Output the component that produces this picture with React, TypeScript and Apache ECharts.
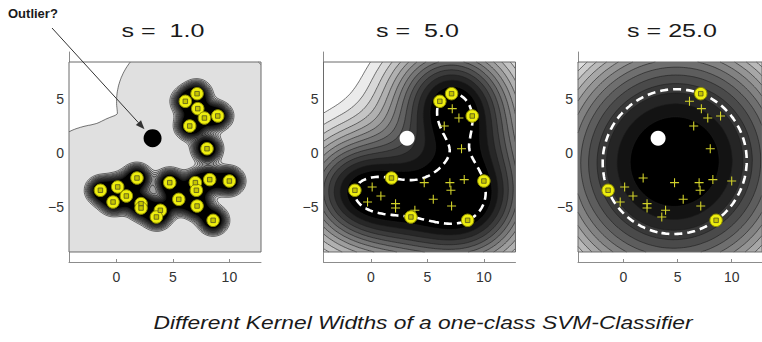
import React, { useEffect, useRef } from "react";
import * as echarts from "echarts";

// ---------------- data ----------------
const pointsX = [7.14, 6.1, 7.2, 7.79, 8.97, 6.49, 8.02, 1.82, -1.42, 0.11, 0.88, -0.3, 2.18, 2.18, 3.89, 3.54, 4.72, 5.52, 6.99, 8.26, 7.08, 10.0, 7.14, 8.56];
const pointsY = [5.53, 4.82, 4.14, 3.27, 3.46, 2.53, 0.42, -2.3, -3.44, -3.13, -3.97, -4.53, -4.68, -5.09, -5.3, -5.92, -2.73, -4.28, -2.73, -2.45, -3.44, -2.58, -4.9, -6.23];
const kernelWidths = [1.0, 5.0, 25.0];
const supportVectors = [
  [0, 1, 2, 3, 4, 5, 6, 7, 8, 9, 10, 11, 12, 13, 14, 15, 16, 17, 18, 19, 20, 21, 22, 23],
  [0, 1, 4, 7, 8, 15, 21, 23],
  [0, 8, 23],
];
const outlier = [3.2, 1.4];
const xTickValues = [0, 5, 10];
const yTickValues = [-5, 0, 5];
const annotationText = "Outlier?";
const captionText = "Different Kernel Widths of a one-class SVM-Classifier";

// ---------------- layout / style ----------------
const AX = { xMin: -4.2, xMax: 12.8, yMin: -10.1, yMax: 9.4 };
const BOX = { x0: -4.2, x1: 12.8, y0: -9.17, y1: 8.47 };
const GRID_LEFT = [69, 323.5, 578];
const GRID_TOP = 52;
const GRID_W = 192;
const GRID_H = 210;
const NX = 96;
const NY = 96;
const GAMMA = 1.15; // kernel k(x, y) = exp(-|x - y|^2 / (GAMMA * s^2))
const FONT = '"Liberation Sans", Arial, Helvetica, sans-serif';

const LEVEL_STYLE: any[] = [
  { div: 23.1, o: 9.86, kStart: 0, kEnd: 10, step: 20.4, extraLow: 7e-15, lowest: "#ffffff", boundary: false },
  { div: 14.5, o: 0.9, kStart: 0, kEnd: 12, step: 19.6, lowest: "#ffffff", boundary: true },
  { div: 9.7, o: 0.61, kStart: -3, kEnd: 9, step: 18.5, boundary: true },
];

function gray(v: number) {
  const c = Math.round(Math.max(0, Math.min(255, v)));
  return `rgb(${c},${c},${c})`;
}

// one-class SVM (support vector data description) fitted with SMO
function fitSVDD(s: number) {
  const n = pointsX.length;
  const K: number[][] = [];
  for (let i = 0; i < n; i++) {
    const row: number[] = [];
    for (let j = 0; j < n; j++) {
      const dx = pointsX[i] - pointsX[j];
      const dy = pointsY[i] - pointsY[j];
      row.push(Math.exp(-(dx * dx + dy * dy) / (GAMMA * s * s)));
    }
    K.push(row);
  }
  const a = new Array(n).fill(1 / n);
  const g = K.map((row) => row.reduce((acc, kij, j) => acc + kij * a[j], 0));
  for (let it = 0; it < 200000; it++) {
    let i = -1, gi = Infinity, j = -1, gj = -Infinity;
    for (let k = 0; k < n; k++) {
      if (g[k] < gi) { gi = g[k]; i = k; }
      if (a[k] > 1e-15 && g[k] > gj) { gj = g[k]; j = k; }
    }
    if (i < 0 || j < 0 || gj - gi < 1e-13) break;
    const eta = Math.max(K[i][i] + K[j][j] - 2 * K[i][j], 1e-14);
    let t = (gj - gi) / eta;
    if (t > a[j]) t = a[j];
    a[i] += t;
    a[j] -= t;
    for (let k = 0; k < n; k++) g[k] += t * (K[k][i] - K[k][j]);
  }
  let sum = 0, cnt = 0;
  for (let k = 0; k < n; k++) if (a[k] > 1e-9) { sum += g[k]; cnt++; }
  return { alpha: a, rho: sum / cnt };
}

function buildField(alpha: number[], s: number) {
  const W = NX + 1;
  const v = new Float64Array(W * (NY + 1));
  const idx: number[] = [];
  alpha.forEach((a, i) => { if (a > 1e-14) idx.push(i); });
  const la = idx.map((i) => Math.log(alpha[i]));
  const e = new Array(idx.length).fill(0);
  for (let j = 0; j <= NY; j++) {
    const y = BOX.y0 + ((BOX.y1 - BOX.y0) * j) / NY;
    for (let i = 0; i <= NX; i++) {
      const x = BOX.x0 + ((BOX.x1 - BOX.x0) * i) / NX;
      let m = -Infinity;
      for (let q = 0; q < idx.length; q++) {
        const dx = x - pointsX[idx[q]];
        const dy = y - pointsY[idx[q]];
        e[q] = la[q] - (dx * dx + dy * dy) / (GAMMA * s * s);
        if (e[q] > m) m = e[q];
      }
      let sum = 0;
      for (let q = 0; q < idx.length; q++) sum += Math.exp(e[q] - m);
      v[j * W + i] = m + Math.log(sum);
    }
  }
  return v;
}

function fillPath(v: Float64Array, t: number, mx: (u: number) => number, my: (w: number) => number) {
  const W = NX + 1;
  const out: string[] = [];
  const P = (u: number, w: number) => `${mx(u).toFixed(1)},${my(w).toFixed(1)}`;
  for (let j = 0; j < NY; j++) {
    let run = -1;
    for (let i = 0; i <= NX; i++) {
      let full = false, any = false;
      let vals: number[] = [];
      if (i < NX) {
        vals = [v[j * W + i], v[j * W + i + 1], v[(j + 1) * W + i + 1], v[(j + 1) * W + i]];
        full = vals.every((x) => x >= t);
        any = vals.some((x) => x >= t);
      }
      if (full) { if (run < 0) run = i; continue; }
      if (run >= 0) {
        out.push(`M${P(run, j)}L${P(i, j)}L${P(i, j + 1)}L${P(run, j + 1)}Z`);
        run = -1;
      }
      if (i < NX && any) {
        const cu = [i, i + 1, i + 1, i];
        const cw = [j, j, j + 1, j + 1];
        const pts: string[] = [];
        for (let k = 0; k < 4; k++) {
          const k2 = (k + 1) % 4;
          const va = vals[k], vb = vals[k2];
          const ina = va >= t, inb = vb >= t;
          if (ina) pts.push(P(cu[k], cw[k]));
          if (ina !== inb) {
            const f = (t - va) / (vb - va);
            pts.push(P(cu[k] + (cu[k2] - cu[k]) * f, cw[k] + (cw[k2] - cw[k]) * f));
          }
        }
        out.push("M" + pts.join("L") + "Z");
      }
    }
  }
  return out.join("");
}

function isoLines(v: Float64Array, t: number) {
  const W = NX + 1;
  const adj = new Map<number, number[]>();
  const pos = new Map<number, [number, number]>();
  const link = (a: number, b: number) => {
    if (!adj.has(a)) adj.set(a, []);
    if (!adj.has(b)) adj.set(b, []);
    adj.get(a)!.push(b);
    adj.get(b)!.push(a);
  };
  for (let j = 0; j < NY; j++) {
    for (let i = 0; i < NX; i++) {
      const vals = [v[j * W + i], v[j * W + i + 1], v[(j + 1) * W + i + 1], v[(j + 1) * W + i]];
      const cu = [i, i + 1, i + 1, i];
      const cw = [j, j, j + 1, j + 1];
      const keys = [(j * W + i) * 2, (j * W + i + 1) * 2 + 1, ((j + 1) * W + i) * 2, (j * W + i) * 2 + 1];
      const cr: { key: number; exit: boolean }[] = [];
      for (let k = 0; k < 4; k++) {
        const k2 = (k + 1) % 4;
        const ina = vals[k] >= t, inb = vals[k2] >= t;
        if (ina !== inb) {
          const key = keys[k];
          if (!pos.has(key)) {
            const f = (t - vals[k]) / (vals[k2] - vals[k]);
            pos.set(key, [cu[k] + (cu[k2] - cu[k]) * f, cw[k] + (cw[k2] - cw[k]) * f]);
          }
          cr.push({ key, exit: ina });
        }
      }
      for (let q = 0; q < cr.length; q++) {
        if (!cr[q].exit) continue;
        for (let s = 1; s < cr.length; s++) {
          const c2 = cr[(q + s) % cr.length];
          if (!c2.exit) { link(cr[q].key, c2.key); break; }
        }
      }
    }
  }
  const lines: [number, number][][] = [];
  const take = (start: number) => {
    const line = [pos.get(start)!];
    let cur = start;
    while (true) {
      const nb = adj.get(cur);
      if (!nb || nb.length === 0) break;
      const nxt = nb.pop()!;
      const back = adj.get(nxt)!;
      const bi = back.indexOf(cur);
      if (bi >= 0) back.splice(bi, 1);
      line.push(pos.get(nxt)!);
      cur = nxt;
      if (nxt === start) break;
    }
    return line;
  };
  for (const [k, nb] of adj) if (nb.length === 1) lines.push(take(k));
  for (const [k, nb] of adj) while (nb.length > 0) lines.push(take(k));
  return lines;
}

function linesPath(lines: [number, number][][], mx: (u: number) => number, my: (w: number) => number) {
  return lines
    .filter((l) => l.length > 1)
    .map((l) => "M" + l.map((p) => `${mx(p[0]).toFixed(1)},${my(p[1]).toFixed(1)}`).join("L"))
    .join("");
}

function buildOption() {
  const grids: any[] = [];
  const xAxes: any[] = [];
  const yAxes: any[] = [];
  const series: any[] = [];

  kernelWidths.forEach((s, p) => {
    const cfg = LEVEL_STYLE[p];
    const { alpha, rho } = fitSVDD(s);
    const field = buildField(alpha, s);
    let vmin = Infinity;
    for (let q = 0; q < field.length; q++) if (field[q] < vmin) vmin = field[q];
    const fmin = Math.exp(vmin);
    const delta = (rho - fmin) / cfg.div;
    const levels: number[] = [];
    for (let k = cfg.kStart; k <= cfg.kEnd; k++) levels.push(rho - delta * (k + cfg.o));
    if (cfg.extraLow) levels.push(rho * cfg.extraLow);
    const logLevels = levels.filter((l) => l > 0).map((l) => Math.log(l));
    const logRho = Math.log(rho);
    const n = logLevels.length;
    const base = cfg.lowest || gray(n * cfg.step);

    grids.push({ left: GRID_LEFT[p], top: GRID_TOP, width: GRID_W, height: GRID_H });
    xAxes.push({
      gridIndex: p, type: "value", min: AX.xMin, max: AX.xMax,
      axisLine: { show: true, onZero: false, lineStyle: { color: "#8c8c8c", width: 1 } },
      axisTick: { show: true, inside: true, length: 3, customValues: xTickValues, lineStyle: { color: "#8c8c8c" } },
      axisLabel: { customValues: xTickValues, fontSize: 14, color: "#333", margin: 8, fontFamily: FONT },
      splitLine: { show: false },
    });
    yAxes.push({
      gridIndex: p, type: "value", min: AX.yMin, max: AX.yMax,
      axisLine: { show: true, onZero: false, lineStyle: { color: "#8c8c8c", width: 1 } },
      axisTick: { show: false },
      axisLabel: {
        customValues: yTickValues, fontSize: 14, color: "#333", margin: 5, fontFamily: FONT,
        formatter: (val: number) => String(val).replace("-", "\u2212"),
      },
      splitLine: { show: false },
    });

    const items = Array.from({ length: n + 4 }, (_, q) => [q, 0]);
    series.push({
      type: "custom",
      xAxisIndex: p, yAxisIndex: p,
      silent: true, z: 1,
      data: items,
      renderItem: (params: any, api: any) => {
        const q = params.dataIndex;
        const a = api.coord([BOX.x0, BOX.y0]);
        const b = api.coord([BOX.x1, BOX.y1]);
        const mx = (u: number) => a[0] + ((b[0] - a[0]) * u) / NX;
        const my = (w: number) => a[1] + ((b[1] - a[1]) * w) / NY;
        const rect = { x: a[0], y: b[1], width: b[0] - a[0], height: a[1] - b[1] };
        if (q === 0) return { type: "rect", shape: rect, style: { fill: base, stroke: "none" } };
        if (q <= n) {
          const m = n - q;
          const d = fillPath(field, logLevels[m], mx, my);
          if (!d) return null;
          return { type: "path", shape: { pathData: d }, style: { fill: gray(m * cfg.step), stroke: "none" } };
        }
        if (q === n + 1) {
          let d = "";
          for (const lv of logLevels) d += linesPath(isoLines(field, lv), mx, my);
          if (!d) return null;
          return { type: "path", shape: { pathData: d }, style: { fill: "none", stroke: "#1c1c1c", lineWidth: 0.6 } };
        }
        if (q === n + 2) {
          if (!cfg.boundary) return null;
          const d = linesPath(isoLines(field, logRho), mx, my);
          if (!d) return null;
          return {
            type: "path", shape: { pathData: d },
            style: { fill: "none", stroke: "#ffffff", lineWidth: 2.6, lineDash: [8, 5] },
          };
        }
        return { type: "rect", shape: rect, style: { fill: "none", stroke: "#6a6a6a", lineWidth: 1 } };
      },
    });

    if (p > 0) {
      series.push({
        type: "scatter", xAxisIndex: p, yAxisIndex: p, silent: true, z: 3,
        symbol: "path://M4.4,0H5.6V4.4H10V5.6H5.6V10H4.4V5.6H0V4.4H4.4Z",
        symbolSize: 9,
        itemStyle: { color: "#d2d22a", opacity: 1 },
        data: pointsX.map((x, i) => [x, pointsY[i]]),
      });
    }
    const sv = supportVectors[p].map((i) => [pointsX[i], pointsY[i]]);
    series.push({
      type: "scatter", xAxisIndex: p, yAxisIndex: p, silent: true, z: 4,
      symbol: "circle", symbolSize: 12.5,
      itemStyle: { color: "#eeee10", borderColor: "#8c8c00", borderWidth: 1, opacity: 1 },
      data: sv,
    });
    series.push({
      type: "scatter", xAxisIndex: p, yAxisIndex: p, silent: true, z: 5,
      symbol: "rect", symbolSize: 4.5,
      itemStyle: { color: "#c4c400", borderColor: "#555522", borderWidth: 0.8, opacity: 1 },
      data: sv,
    });
    series.push({
      type: "scatter", xAxisIndex: p, yAxisIndex: p, silent: true, z: 5,
      symbol: "circle", symbolSize: p === 0 ? 18 : 15,
      itemStyle: { color: p === 0 ? "#000000" : "#ffffff", opacity: 1 },
      data: [[outlier[0], outlier[1]]],
    });
  });

  return {
    animation: false,
    backgroundColor: "#ffffff",
    grid: grids,
    xAxis: xAxes,
    yAxis: yAxes,
    series,
  };
}

function buildGraphics(center: number[]) {
  const g: any[] = [];
  kernelWidths.forEach((s, p) => {
    const title = "s = " + s.toFixed(1).padStart(4, " ");
    g.push({
      type: "text", x: GRID_LEFT[p] + GRID_W / 2 - 2, y: 31, scaleX: 1.32, silent: true, z: 100,
      style: {
        text: title, font: `19px ${FONT}`, fill: "#1a1a1a",
        textAlign: "center", align: "center", textVerticalAlign: "middle", verticalAlign: "middle",
      },
    });
  });
  g.push({
    type: "text", x: 8, y: 13, silent: true, z: 100,
    style: {
      text: annotationText, font: `bold 13px ${FONT}`, fill: "#1a1a1a",
      textAlign: "left", align: "left", textVerticalAlign: "middle", verticalAlign: "middle",
    },
  });
  g.push({
    type: "text", x: 423, y: 322, scaleX: 1.2, silent: true, z: 100,
    style: {
      text: captionText, font: `italic 19px ${FONT}`, fill: "#1a1a1a",
      textAlign: "center", align: "center", textVerticalAlign: "middle", verticalAlign: "middle",
    },
  });
  // arrow from the annotation to the outlier
  const sx = 52, sy = 28;
  const dx = center[0] - sx, dy = center[1] - sy;
  const len = Math.sqrt(dx * dx + dy * dy);
  const ux = dx / len, uy = dy / len;
  const tipX = center[0] - ux * 12, tipY = center[1] - uy * 12;
  const hl = 9, hw = 3.5;
  const bx = tipX - ux * hl, by = tipY - uy * hl;
  g.push({
    type: "line", silent: true, z: 100,
    shape: { x1: sx, y1: sy, x2: bx, y2: by },
    style: { stroke: "#333", lineWidth: 1 },
  });
  g.push({
    type: "polygon", silent: true, z: 100,
    shape: { points: [[tipX, tipY], [bx - uy * hw, by + ux * hw], [bx + uy * hw, by - ux * hw]] },
    style: { fill: "#333" },
  });
  return g;
}

export default function App() {
  const ref = useRef<HTMLDivElement>(null);
  useEffect(() => {
    const chart = echarts.init(ref.current!, null, { renderer: "svg" });
    chart.setOption(buildOption() as any);
    const c = chart.convertToPixel({ xAxisIndex: 0, yAxisIndex: 0 } as any, [outlier[0], outlier[1]]) as number[];
    chart.setOption({ graphic: buildGraphics(c) } as any);
    return () => chart.dispose();
  }, []);
  return (
    <div
      ref={ref}
      style={{ position: "fixed", left: 0, top: 0, width: 762, height: 342, background: "#fff" }}
    />
  );
}
